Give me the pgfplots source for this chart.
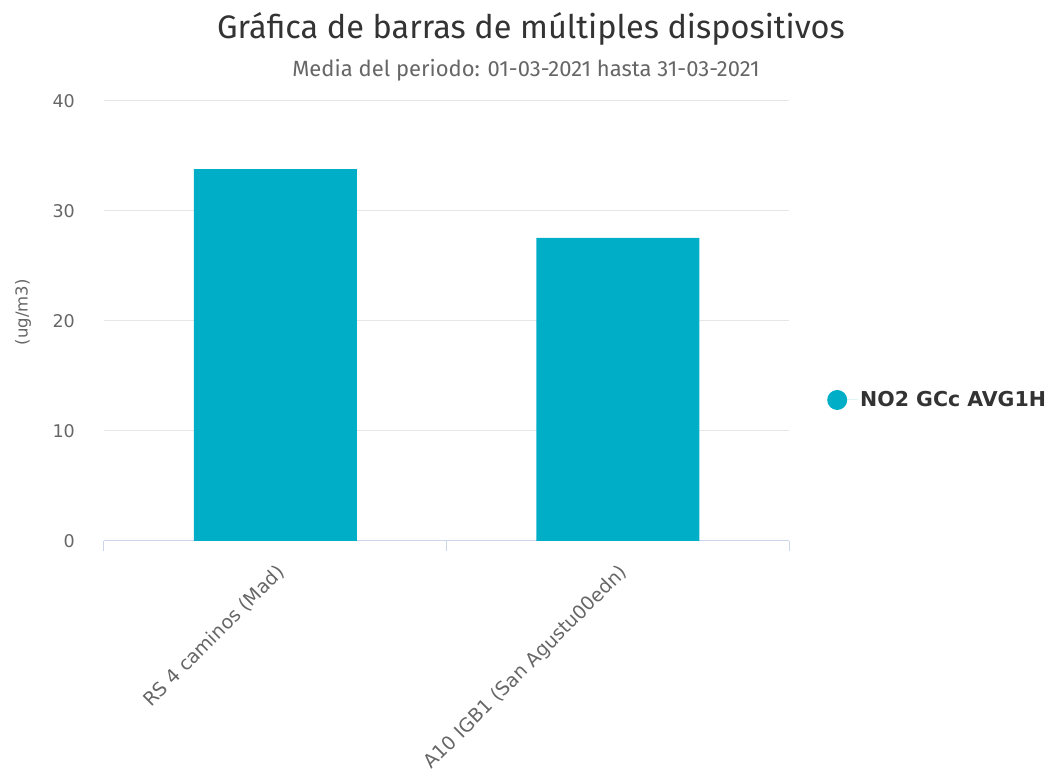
\documentclass[border=0pt]{standalone}
\usepackage{pgfplots}
\pgfplotsset{compat=1.18}
\usepackage{fontspec}
\setmainfont{DejaVu Sans}
\newfontfamily\titlefont{Fira Sans}
\newfontfamily\legfont{DejaVu Sans}
\definecolor{barc}{HTML}{00AEC7}
\definecolor{gridc}{HTML}{E6E6E6}
\definecolor{axc}{HTML}{CCD6EB}
\definecolor{txt}{HTML}{666666}
\definecolor{ttl}{HTML}{333333}
\begin{document}
\begin{tikzpicture}[x=1pt,y=1pt]
\path[use as bounding box] (0,0) rectangle (1052,783);
\node[anchor=base, text=ttl, font=\titlefont\fontsize{32.5}{37}\selectfont] at (531,744) {Gráfica de barras de múltiples dispositivos};
\node[anchor=base, text=txt, font=\titlefont\fontsize{22}{26}\selectfont] at (526,706) {Media del periodo: 01-03-2021 hasta 31-03-2021};
\begin{axis}[
  at={(104pt,242pt)}, anchor=south west,
  scale only axis, width=685pt, height=440pt,
  xmin=-0.5, xmax=1.5, ymin=0, ymax=40,
  ytick={0,10,20,30,40},
  xtick={-0.5,0.5,1.5},
  xticklabels={,,},
  major tick length=10pt,
  tick align=outside,
  x tick style={axc, line width=1pt},
  extra x ticks={0,1},
  extra x tick labels={RS 4 caminos (Mad), A10 IGB1 (San Agustu00edn)},
  extra x tick style={grid=none, major tick length=0pt, tick style={draw=none}},
  y tick style={draw=none},
  axis x line*=bottom,
  axis y line*=left,
  y axis line style={draw=none},
  x axis line style={axc, line width=1pt, -},
  ymajorgrids, grid style={gridc, line width=1pt},
  /pgf/number format/assume math mode=true,
  yticklabel style={font=\fontsize{17.5}{20}\selectfont, text=txt, inner sep=0pt, xshift=-19pt},
  xticklabel style={font=\fontsize{19}{22}\selectfont, text=txt, rotate=45, anchor=north east, inner sep=0pt},
  xticklabel shift=22pt,
  ylabel={(ug/m3)},
  every axis y label/.style={at={(rel axis cs:0,0.52)}, xshift=-81pt, rotate=90, anchor=center, font=\fontsize{16.5}{18}\selectfont, text=txt},
  ybar=0pt, bar width=163pt,
  legend style={at={(rel axis cs:1.0555,0.3205)}, anchor=west, draw=none, fill=none, inner sep=0pt, font=\legfont\bfseries\fontsize{20.5}{24}\selectfont, text=ttl},
  legend image code/.code={\fill[barc] (10pt,0pt) circle (10pt); \path (0pt,0pt) -- (31pt,0pt);},
]
\addplot[fill=barc, draw=none] coordinates {(0,33.8) (1,27.55)};
\addlegendentry{NO2 GCc AVG1H}
\end{axis}
\end{tikzpicture}
\end{document}
